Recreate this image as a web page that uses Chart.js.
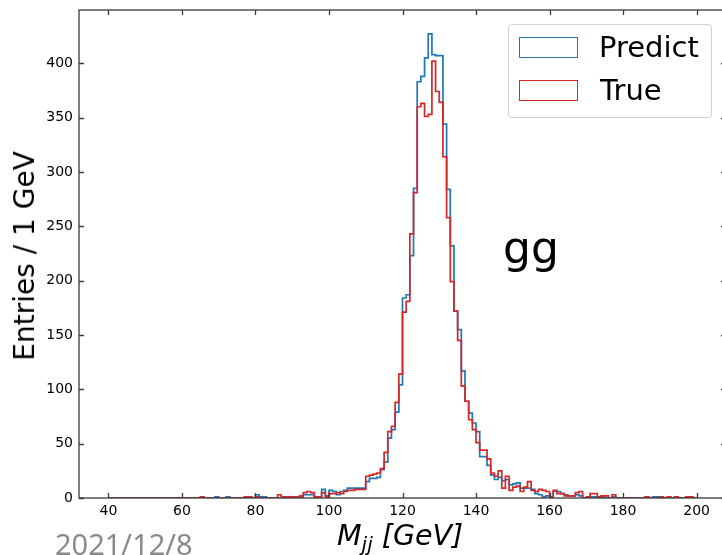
<!DOCTYPE html>
<html>
<head>
<meta charset="utf-8">
<script src="https://cdn.jsdelivr.net/npm/chart.js@4.4.1/dist/chart.umd.min.js"></script>
<style>
  html, body { margin: 0; padding: 0; background: #fff; overflow: hidden; }
  #wrap { position: relative; width: 722px; height: 555px; overflow: hidden; font-family: 'DejaVu Sans', sans-serif; }
  #wrap canvas { position: absolute; left: 0; top: 0; }
  .txt { position: absolute; white-space: nowrap; color: #000; line-height: 1; }
  #legend { position: absolute; left: 508px; top: 24px; width: 204px; height: 94px; border: 1px solid #d0d0d0; border-radius: 4px; background: rgba(255,255,255,0.8); box-sizing: border-box; }
  .patch { position: absolute; width: 59px; height: 21px; box-sizing: border-box; border: 1.5px solid; }
</style>
</head>
<body>
<div id="wrap">
  <canvas id="myChart" width="740" height="555" style="width:740px;height:555px"></canvas>
  <div id="legend"></div>
  <div class="patch" style="left:519px;top:37px;border-color:#1f77b4"></div>
  <div class="patch" style="left:519px;top:80px;border-color:#d62728"></div>
  <div class="txt" style="left:599px;top:33px;font-size:29px">Predict</div>
  <div class="txt" style="left:600px;top:76px;font-size:29px">True</div>
  <div class="txt" style="left:503px;top:226px;font-size:44px">gg</div>
  <div class="txt" style="left:25px;top:256px;font-size:28px;line-height:28px;transform:translate(-50%,-50%) rotate(-90deg)">Entries / 1 GeV</div>
  <div class="txt" style="left:337px;top:522px;font-size:28.5px;line-height:28px;font-style:italic">M<span style="font-size:20px;vertical-align:-6px;line-height:0">jj</span> [GeV]</div>
  <div class="txt" style="left:55px;top:529px;font-size:29px;color:#8a8a8a;font-family:'Noto Sans',sans-serif">2021/12/8</div>
</div>
<script>
// 1 GeV bins, first bin starts at 40 GeV
const binStart = 40
const binWidth = 1

// entries per bin, 40..199 GeV
const trueCounts = [
  0, 0, 0, 0, 0, 0, 0, 0, 0, 0,          // 40-49
  0, 0, 0, 0, 0, 0, 0, 0, 0, 0,          // 50-59
  0, 0, 0, 0, 0, 1, 0, 0, 0, 0,          // 60-69
  0, 0, 0, 0, 0, 0, 0, 1, 1, 0,          // 70-79
  1, 0, 0, 0, 0, 0, 3, 1, 1, 1,          // 80-89
  1, 1, 2, 5, 6, 5, 1, 1, 5, 1,          // 90-99
  4, 4, 5, 4, 6, 7, 7, 8, 8, 8,          // 100-109
  20, 21, 22, 23, 27, 42, 61, 66, 88, 114,        // 110-119
  171, 181, 243, 281, 360, 363, 351, 353, 402, 374, // 120-129
  364, 314, 258, 199, 172, 145, 103, 89, 72, 63,    // 130-139
  51, 44, 44, 36, 23, 20, 25, 9, 20, 7,             // 140-149
  10, 11, 6, 10, 15, 7, 6, 8, 7, 6,                 // 150-159
  1, 7, 4, 4, 2, 2, 2, 5, 6, 0,                     // 160-169
  1, 4, 4, 1, 2, 2, 0, 3, 0, 0,                     // 170-179
  0, 0, 0, 0, 0, 0, 1, 0, 0, 0,                     // 180-189
  1, 0, 1, 0, 1, 0, 0, 1, 1, 0                      // 190-199
]
const predictCounts = [
  0, 0, 0, 0, 0, 0, 0, 0, 0, 0,          // 40-49
  0, 0, 0, 0, 0, 0, 0, 0, 0, 0,          // 50-59
  0, 0, 0, 0, 0, 0, 0, 0, 0, 1,          // 60-69
  0, 0, 1, 0, 0, 0, 0, 1, 1, 0,          // 70-79
  3, 1, 1, 0, 0, 0, 0, 0, 1, 0,          // 80-89
  1, 1, 1, 3, 3, 3, 0, 1, 8, 2,          // 90-99
  7, 6, 3, 6, 7, 9, 9, 9, 9, 9,          // 100-109
  15, 18, 18, 19, 26, 33, 55, 63, 79, 104,          // 110-119
  184, 187, 223, 285, 383, 388, 405, 427, 408, 407, // 120-129
  407, 344, 284, 232, 172, 155, 117, 89, 78, 69,    // 130-139
  61, 38, 38, 30, 21, 17, 19, 16, 17, 12,           // 140-149
  13, 14, 9, 9, 9, 8, 4, 3, 1, 2,                   // 150-159
  1, 6, 6, 4, 3, 2, 2, 3, 2, 0,                     // 160-169
  0, 1, 1, 0, 1, 0, 0, 1, 0, 0,                     // 170-179
  0, 0, 0, 0, 0, 0, 1, 0, 1, 1,                     // 180-189
  0, 0, 0, 0, 0, 0, 0, 0, 0, 0                      // 190-199
]

const xTicks = [40, 60, 80, 100, 120, 140, 160, 180, 200]
const yTicks = [0, 50, 100, 150, 200, 250, 300, 350, 400]

// histogram outline: start and end on the baseline like histtype='step'
const stepPoints = counts => {
  const pts = [{ x: binStart, y: 0 }]
  counts.forEach((c, i) => pts.push({ x: binStart + i * binWidth, y: c }))
  const end = binStart + counts.length * binWidth
  pts.push({ x: end, y: counts[counts.length - 1] })
  pts.push({ x: end, y: 0 })
  return pts
}

// matplotlib style frame with inward ticks on all four sides
const frameTicks = {
  id: 'frameTicks',
  afterDatasetsDraw(chart) {
    const { ctx, chartArea: a, scales } = chart
    ctx.save()
    ctx.strokeStyle = '#3a3a3a'
    ctx.lineWidth = 1.3
    ctx.strokeRect(a.left, a.top, a.right - a.left, a.bottom - a.top)
    ctx.beginPath()
    xTicks.forEach(v => {
      const px = Math.round(scales.x.getPixelForValue(v)) + 0.5
      ctx.moveTo(px, a.bottom); ctx.lineTo(px, a.bottom - 5)
      ctx.moveTo(px, a.top); ctx.lineTo(px, a.top + 5)
    })
    yTicks.forEach(v => {
      const py = Math.round(scales.y.getPixelForValue(v)) + 0.5
      ctx.moveTo(a.left, py); ctx.lineTo(a.left + 5, py)
      ctx.moveTo(a.right, py); ctx.lineTo(a.right - 5, py)
    })
    ctx.stroke()
    ctx.restore()
  }
}

const tickFont = { family: 'DejaVu Sans', size: 14 }

var ctx = document.getElementById('myChart')
var histChart = new Chart(ctx, {
  type: 'line',
  data: {
    datasets: [
      {
        label: 'Predict',
        data: stepPoints(predictCounts),
        borderColor: '#1f77b4',
        borderWidth: 1.7,
        stepped: 'before',
        pointRadius: 0,
        fill: false,
        order: 2
      },
      {
        label: 'True',
        data: stepPoints(trueCounts),
        borderColor: '#d62728',
        borderWidth: 1.7,
        stepped: 'before',
        pointRadius: 0,
        fill: false,
        order: 1
      }
    ]
  },
  options: {
    responsive: false,
    animation: false,
    layout: { padding: { left: 0, top: 10, right: 14, bottom: 0 } },
    plugins: { legend: { display: false }, tooltip: { enabled: false } },
    scales: {
      x: {
        type: 'linear',
        min: 32,
        max: 208,
        grid: { display: false, drawTicks: false },
        border: { display: false },
        ticks: { font: tickFont, color: '#000', padding: 5, autoSkip: false, maxRotation: 0 },
        afterBuildTicks: s => { s.ticks = xTicks.map(v => ({ value: v })) },
        afterFit: s => { s.height = 57; s.paddingLeft = 0; s.paddingRight = 0 }
      },
      y: {
        min: 0,
        max: 449,
        grid: { display: false, drawTicks: false },
        border: { display: false },
        ticks: { font: tickFont, color: '#000', padding: 6, autoSkip: false },
        afterBuildTicks: s => { s.ticks = yTicks.map(v => ({ value: v })) },
        afterFit: s => { s.width = 79; s.paddingTop = 0; s.paddingBottom = 0 }
      }
    }
  },
  plugins: [frameTicks]
})
</script>
</body>
</html>
